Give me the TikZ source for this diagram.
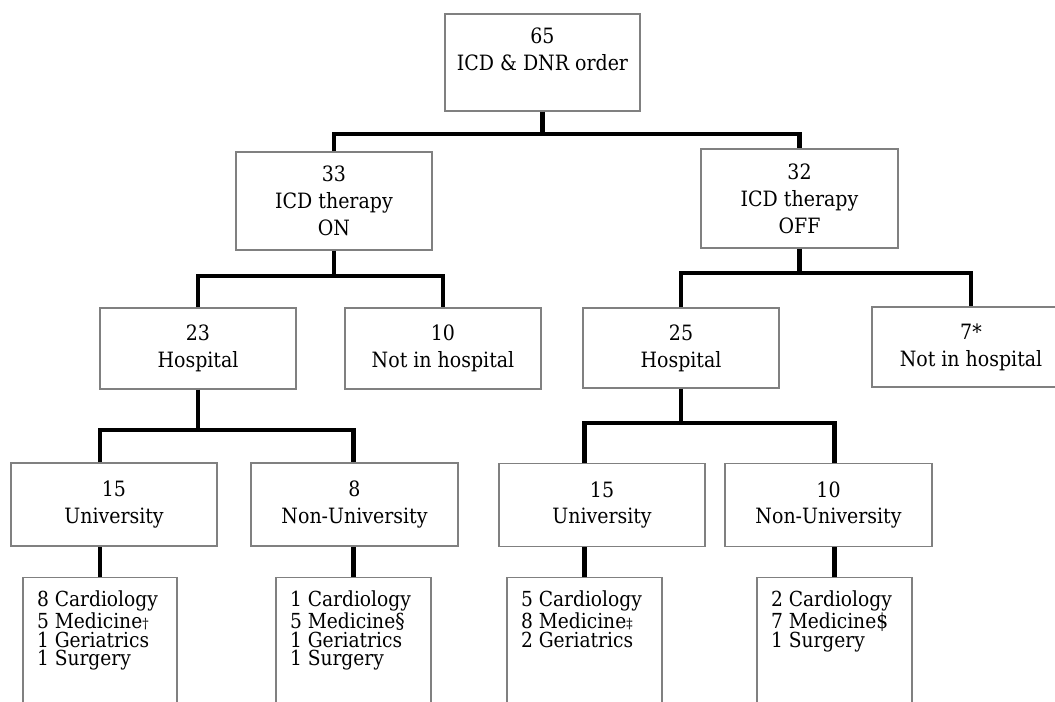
\documentclass[tikz,border=0pt]{standalone}
\usepackage{fontspec}
\setmainfont{DejaVu Serif Condensed}
\definecolor{boxgray}{HTML}{808080}

\begin{document}
\begin{tikzpicture}[x=0.02cm, y=-0.02cm,
  box/.style={rectangle, draw=boxgray, line width=0.8pt, align=center, inner sep=0pt,
    font=\fontsize{12}{15.3}\selectfont},
  list/.style={rectangle, draw=boxgray, line width=0.8pt, anchor=north, inner xsep=0.28cm,
    inner ysep=0.26cm, font=\fontsize{11.8}{10.5}\selectfont},
  bar/.style={line width=2.4pt}]
  \useasboundingbox (0,0) rectangle (1055,702);

  \node (top) [box, minimum width=3.9cm, minimum height=1.94cm] at (542.5,62.5) {65\\ICD \& DNR order\\\mbox{}};

  \node (on) [box, minimum width=3.92cm, minimum height=1.96cm] at (334,201) {33\\ICD therapy\\ON};
  \node (off) [box, minimum width=3.94cm, minimum height=1.98cm] at (799.5,198.5) {32\\ICD therapy\\OFF};

  \node (onhosp) [box, minimum width=3.92cm, minimum height=1.62cm] at (198,348.5) {23\\Hospital};
  \node (onnot) [box, minimum width=3.92cm, minimum height=1.62cm] at (443,348.5) {10\\Not in hospital};
  \node (offhosp) [box, minimum width=3.92cm, minimum height=1.6cm] at (681,348) {25\\Hospital};
  \node (offnot) [box, minimum width=3.96cm, minimum height=1.6cm] at (971,347) {7*\\Not in hospital};

  \node (onuni) [box, minimum width=4.12cm, minimum height=1.66cm] at (114,504.5) {15\\University};
  \node (onnonuni) [box, minimum width=4.14cm, minimum height=1.66cm] at (354.5,504.5) {8\\Non-University};
  \node (offuni) [box, minimum width=4.12cm, minimum height=1.66cm] at (602,505) {15\\University};
  \node (offnonuni) [box, minimum width=4.14cm, minimum height=1.66cm] at (828.5,505) {10\\Non-University};

  \node (onunidep) [list] at (100,577) {\parbox[t][3cm][t]{2.52cm}{\raggedright
    8 Cardiology\\5 Medicine{\footnotesize †}\\1 Geriatrics\\1 Surgery}};
  \node (onnonunidep) [list] at (353.5,577) {\parbox[t][3cm][t]{2.54cm}{\raggedright
    1 Cardiology\\5 Medicine§\\1 Geriatrics\\1 Surgery}};
  \node (offunidep) [list] at (584.5,577) {\parbox[t][3cm][t]{2.54cm}{\raggedright
    5 Cardiology\\8 Medicine{\footnotesize ‡}\\2 Geriatrics}};
  \node (offnonunidep) [list] at (834.5,577) {\parbox[t][3cm][t]{2.54cm}{\raggedright
    2 Cardiology\\7 Medicine\$\\1 Surgery}};

  \coordinate (j0) at (top.south |- 0,134);
  \draw[bar] (top.south) -- (j0);
  \draw[bar] (on.north) |- (j0) -| (off.north);

  \coordinate (j1) at (on.south |- 0,276);
  \draw[bar] (on.south) -- (j1);
  \draw[bar] (onhosp.north) |- (j1) -| (onnot.north);

  \coordinate (j2) at (off.south |- 0,273);
  \draw[bar] (off.south) -- (j2);
  \draw[bar] (offhosp.north) |- (j2) -| (offnot.north);

  \coordinate (j3) at (onhosp.south |- 0,430);
  \draw[bar] (onhosp.south) -- (j3);
  \draw[bar] (onunidep.north |- onuni.north) |- (j3) -| (onnonunidep.north |- onnonuni.north);

  \coordinate (j4) at (offhosp.south |- 0,423);
  \draw[bar] (offhosp.south) -- (j4);
  \draw[bar] (offunidep.north |- offuni.north) |- (j4) -| (offnonunidep.north |- offnonuni.north);

  \draw[bar] (onunidep.north) -- (onunidep.north |- onuni.south);
  \draw[bar] (onnonunidep.north) -- (onnonunidep.north |- onnonuni.south);
  \draw[bar] (offunidep.north) -- (offunidep.north |- offuni.south);
  \draw[bar] (offnonunidep.north) -- (offnonunidep.north |- offnonuni.south);
\end{tikzpicture}
\end{document}
